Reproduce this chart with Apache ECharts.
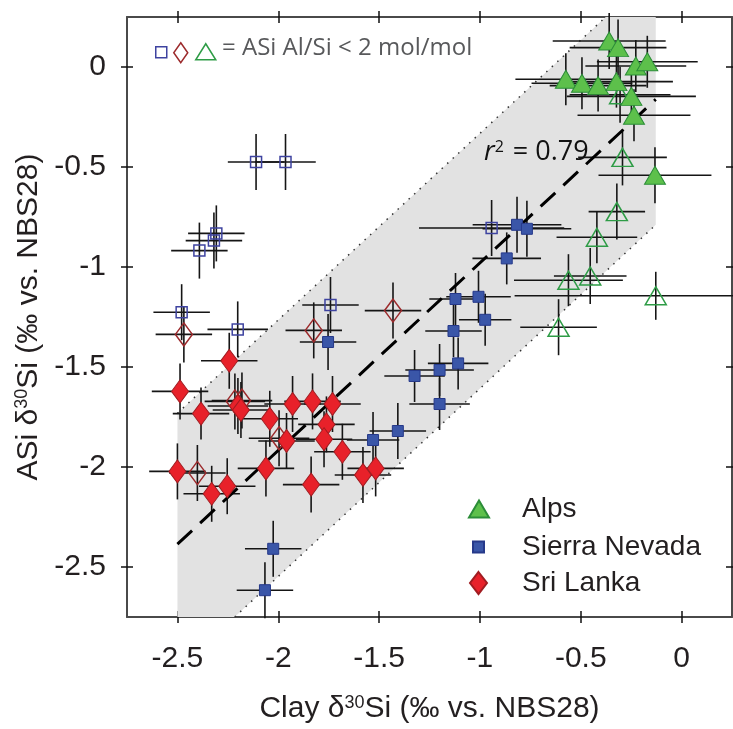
<!DOCTYPE html>
<html>
<head>
<meta charset="utf-8">
<script src="https://cdn.jsdelivr.net/npm/echarts@6/dist/echarts.min.js"></script>
<style>
html,body{margin:0;padding:0;background:#fff;}
#chart{width:733px;height:729px;}
</style>
</head>
<body>
<div id="chart"></div>
<script>
// ---- data: [clay d30Si, ASi d30Si, x error, y error] ----
const alpsFilled = [
  [-0.359, 0.130, 0.28, 0.14], [-0.315, 0.097, 0.24, 0.14], [-0.227, 0.005, 0.25, 0.13],
  [-0.170, 0.026, 0.25, 0.13], [-0.574, -0.061, 0.25, 0.13], [-0.494, -0.081, 0.25, 0.13],
  [-0.414, -0.093, 0.24, 0.13], [-0.323, -0.073, 0.28, 0.13], [-0.249, -0.147, 0.32, 0.13],
  [-0.236, -0.241, 0.28, 0.13], [-0.132, -0.541, 0.28, 0.14]
];
const alpsOpen = [
  [-0.305, -0.139, 0.25, 0.14], [-0.293, -0.452, 0.22, 0.14], [-0.321, -0.723, 0.14, 0.14],
  [-0.420, -0.851, 0.20, 0.13], [-0.561, -1.066, 0.27, 0.13], [-0.453, -1.045, 0.18, 0.14],
  [-0.128, -1.144, 0.70, 0.12], [-0.610, -1.301, 0.19, 0.14]
];
const sierraFilled = [
  [-0.816, -0.789, 0.22, 0.14], [-0.767, -0.809, 0.22, 0.14], [-0.867, -0.957, 0.17, 0.13],
  [-1.121, -1.160, 0.13, 0.13], [-1.007, -1.149, 0.16, 0.13], [-0.974, -1.264, 0.13, 0.13],
  [-1.131, -1.320, 0.14, 0.13], [-1.108, -1.482, 0.15, 0.13], [-1.200, -1.515, 0.17, 0.13],
  [-1.200, -1.685, 0.15, 0.13], [-1.324, -1.545, 0.15, 0.13], [-1.407, -1.820, 0.14, 0.14],
  [-1.530, -1.865, 0.13, 0.14], [-1.753, -1.375, 0.14, 0.14], [-2.025, -2.409, 0.14, 0.14],
  [-2.066, -2.616, 0.14, 0.14]
];
const sierraOpen = [
  [-2.110, -0.475, 0.14, 0.14], [-1.964, -0.475, 0.15, 0.14], [-2.307, -0.832, 0.14, 0.14],
  [-2.319, -0.868, 0.14, 0.14], [-2.391, -0.918, 0.14, 0.14], [-2.479, -1.226, 0.14, 0.14],
  [-2.201, -1.312, 0.15, 0.14], [-1.741, -1.190, 0.14, 0.14], [-0.942, -0.805, 0.36, 0.14]
];
const sriFilled = [
  [-2.243, -1.469, 0.14, 0.14], [-2.487, -1.622, 0.14, 0.14], [-2.383, -1.733, 0.14, 0.13],
  [-2.200, -1.695, 0.15, 0.14], [-2.185, -1.715, 0.14, 0.14], [-2.042, -1.759, 0.14, 0.14],
  [-1.929, -1.685, 0.14, 0.14], [-1.830, -1.672, 0.14, 0.14], [-1.731, -1.685, 0.14, 0.14],
  [-1.761, -1.787, 0.14, 0.14], [-1.959, -1.870, 0.14, 0.14], [-1.773, -1.861, 0.14, 0.14],
  [-1.682, -1.924, 0.14, 0.14], [-1.580, -2.040, 0.14, 0.14], [-1.517, -2.007, 0.14, 0.14],
  [-2.500, -2.022, 0.14, 0.14], [-2.330, -2.134, 0.14, 0.14], [-2.253, -2.096, 0.14, 0.14],
  [-2.061, -2.007, 0.14, 0.14], [-1.837, -2.088, 0.14, 0.14]
];
const sriOpen = [
  [-2.468, -1.337, 0.14, 0.14], [-1.824, -1.317, 0.14, 0.14], [-1.431, -1.218, 0.14, 0.14],
  [-2.215, -1.672, 0.15, 0.14], [-2.180, -1.668, 0.15, 0.14], [-1.996, -1.856, 0.15, 0.14],
  [-2.401, -2.030, 0.14, 0.14]
];
// regression line and prediction band
const regLine = [[-2.5, -2.386], [-0.128, -0.162]];
const upperBand = [[-2.5, -1.731], [-0.376, 0.25]];
const lowerBand = [[-2.216, -2.75], [-0.128, -0.789]];
const bandPoly = [[-2.5, -2.75], [-2.5, -1.731], [-0.376, 0.25], [-0.128, 0.25], [-0.128, -0.789], [-2.216, -2.75]];
const xTicks = [-2.5, -2, -1.5, -1, -0.5, 0];
const yTicks = [-2.5, -2, -1.5, -1, -0.5, 0];
const axisMin = -2.75, axisMax = 0.25;

const FONT = '"Liberation Sans", Arial, sans-serif';
const NOTE_FONT = '"Open Sans", sans-serif';
const LABEL_COLOR = '#231f20';
const AXIS_COLOR = '#4a4a4a';

function mkAxis(pos, inside, main, nameObj) {
  const a = {
    type: 'value', position: pos, min: axisMin, max: axisMax,
    splitLine: { show: false },
    axisLine: { show: main, onZero: false, lineStyle: { color: AXIS_COLOR, width: 2 } },
    axisTick: { show: true, inside: inside, length: 6, customValues: (pos === 'bottom' || pos === 'top') ? xTicks : yTicks,
      lineStyle: { color: '#111', width: 1.5 } },
    axisLabel: { show: false }
  };
  if (nameObj) Object.assign(a, nameObj);
  return a;
}

const xMain = mkAxis('bottom', false, true, {
  axisLabel: { show: true, customValues: xTicks, margin: 27, fontSize: 30, fontFamily: FONT, color: LABEL_COLOR },
  name: 'Clay δ{sup|30}Si (‰ vs. NBS28)', nameLocation: 'middle', nameGap: 77,
  nameTextStyle: { fontSize: 30, fontFamily: FONT, color: LABEL_COLOR,
    rich: { sup: { fontSize: 18, fontFamily: FONT, color: LABEL_COLOR, verticalAlign: 'top', padding: [0, 0, 12, 0] } } }
});
const yMain = mkAxis('left', false, true, {
  axisLabel: { show: true, customValues: yTicks, margin: 21, fontSize: 30, fontFamily: FONT, color: LABEL_COLOR },
  name: 'ASi δ{sup|30}Si (‰ vs. NBS28)', nameLocation: 'middle', nameGap: 82,
  nameTextStyle: { fontSize: 30, fontFamily: FONT, color: LABEL_COLOR,
    rich: { sup: { fontSize: 18, fontFamily: FONT, color: LABEL_COLOR, verticalAlign: 'top', padding: [0, 0, 12, 0] } } }
});

function errRender(params, api) {
  const x = api.value(0), y = api.value(1), xe = api.value(2), ye = api.value(3);
  const l = api.coord([x - xe, y]), r = api.coord([x + xe, y]);
  const t = api.coord([x, y + ye]), b = api.coord([x, y - ye]);
  const st = { stroke: '#151515', lineWidth: 1.6 };
  return { type: 'group', children: [
    { type: 'line', shape: { x1: l[0], y1: l[1], x2: r[0], y2: r[1] }, style: st },
    { type: 'line', shape: { x1: t[0], y1: t[1], x2: b[0], y2: b[1] }, style: st }
  ] };
}
const allPts = [].concat(alpsFilled, alpsOpen, sierraFilled, sierraOpen, sriFilled, sriOpen);

const C = {
  alpsFill: '#5dc04b', alpsBorder: '#2b8d38', alpsOpen: '#2e9c46',
  snFill: '#3a56a8', snBorder: '#26398a', snOpen: '#3e43a0',
  slFill: '#e8212a', slBorder: '#a01c21', slOpen: '#9c2a2c'
};
const clear = 'rgba(255,255,255,0)';

function scatter(name, data, symbol, size, color, border, bw, z) {
  return { name: name, type: 'scatter', data: data.map(d => [d[0], d[1]]), symbol: symbol, symbolSize: size,
    itemStyle: { color: color, borderColor: border, borderWidth: bw, opacity: 1 }, z: z, silent: true, animation: false };
}

const option = {
  animation: false,
  grid: { left: 127, top: 17, width: 605, height: 605, containLabel: false },
  xAxis: [xMain, mkAxis('bottom', true, false), mkAxis('top', false, true), mkAxis('top', true, false)],
  yAxis: [yMain, mkAxis('left', true, false), mkAxis('right', false, true), mkAxis('right', true, false)],
  title: [
    { text: '= ASi Al/Si < 2 mol/mol', left: 217, top: 31,
      textStyle: { fontSize: 24, fontWeight: 'normal', fontFamily: NOTE_FONT, color: '#58595b' } },
    { text: '{i|r}{s|2}{n| = 0.79}', left: 479, top: 134,
      textStyle: { fontWeight: 'normal', rich: {
        i: { fontSize: 27, fontStyle: 'italic', fontWeight: 'normal', fontFamily: NOTE_FONT, color: '#111' },
        s: { fontSize: 16, fontWeight: 'normal', fontFamily: NOTE_FONT, color: '#111', verticalAlign: 'top', padding: [0, 2, 11, 0] },
        n: { fontSize: 27, fontWeight: 'normal', fontFamily: NOTE_FONT, color: '#111' } } } }
  ],
  legend: [
    { data: [{ name: 'Alps', icon: 'triangle' }], left: 463, top: 490, itemWidth: 20, itemHeight: 17, selectedMode: false,
      textStyle: { fontSize: 28, fontFamily: FONT, color: LABEL_COLOR, padding: [0, 0, 0, 28] } },
    { data: [{ name: 'Sierra Nevada', icon: 'rect' }], left: 467, top: 528, itemWidth: 11, itemHeight: 11, selectedMode: false,
      textStyle: { fontSize: 28, fontFamily: FONT, color: LABEL_COLOR, padding: [0, 0, 0, 33] } },
    { data: [{ name: 'Sri Lanka', icon: 'diamond' }], left: 464, top: 564, itemWidth: 17, itemHeight: 22, selectedMode: false,
      textStyle: { fontSize: 28, fontFamily: FONT, color: LABEL_COLOR, padding: [0, 0, 0, 30] } },
    { data: [{ name: 'Sierra Nevada (Al/Si<2)', icon: 'rect', itemStyle: { color: clear, borderColor: C.snOpen, borderWidth: 1.5 } }],
      left: 150, top: 41, itemWidth: 11, itemHeight: 11, selectedMode: false, formatter: () => '', textStyle: { fontSize: 1 } },
    { data: [{ name: 'Sri Lanka (Al/Si<2)', icon: 'diamond', itemStyle: { color: clear, borderColor: C.slOpen, borderWidth: 1.5 } }],
      left: 168, top: 37, itemWidth: 14, itemHeight: 20, selectedMode: false, formatter: () => '', textStyle: { fontSize: 1 } },
    { data: [{ name: 'Alps (Al/Si<2)', icon: 'triangle', itemStyle: { color: clear, borderColor: C.alpsOpen, borderWidth: 1.5 } }],
      left: 190, top: 38, itemWidth: 20, itemHeight: 16, selectedMode: false, formatter: () => '', textStyle: { fontSize: 1 } }
  ],
  series: [
    { type: 'custom', name: 'band', silent: true, z: 1,
      data: bandPoly.map((p, i) => [p[0], p[1], i]),
      renderItem: function (params, api) {
        if (params.dataIndex !== 0) return null;
        const pts = bandPoly.map(p => api.coord(p));
        return { type: 'polygon', shape: { points: pts }, style: { fill: '#e2e2e2' } };
      } },
    { type: 'line', name: 'upper', data: upperBand, symbol: 'none', silent: true, z: 2,
      lineStyle: { color: '#333', width: 1.5, type: [1.5, 6] } },
    { type: 'line', name: 'lower', data: lowerBand, symbol: 'none', silent: true, z: 2,
      lineStyle: { color: '#333', width: 1.5, type: [1.5, 6] } },
    { type: 'custom', name: 'errors', silent: true, z: 3, data: allPts, renderItem: errRender },
    { type: 'line', name: 'regression', data: regLine, symbol: 'none', silent: true, z: 4,
      lineStyle: { color: '#000', width: 3, type: [20, 11] } },
    scatter('Sierra Nevada (Al/Si<2)', sierraOpen, 'rect', 11, clear, C.snOpen, 1.5, 5),
    scatter('Sri Lanka (Al/Si<2)', sriOpen, 'diamond', [17, 23], clear, C.slOpen, 1.5, 5),
    scatter('Alps (Al/Si<2)', alpsOpen, 'triangle', [21, 18], clear, C.alpsOpen, 1.5, 5),
    scatter('Sri Lanka', sriFilled, 'diamond', [17, 23], C.slFill, C.slBorder, 1, 6),
    scatter('Sierra Nevada', sierraFilled, 'rect', 11, C.snFill, C.snBorder, 1, 6),
    scatter('Alps', alpsFilled, 'triangle', [21, 18], C.alpsFill, C.alpsBorder, 1, 6)
  ]
};

const chart = echarts.init(document.getElementById('chart'), null, { renderer: 'canvas' });
chart.setOption(option);
</script>
</body>
</html>
